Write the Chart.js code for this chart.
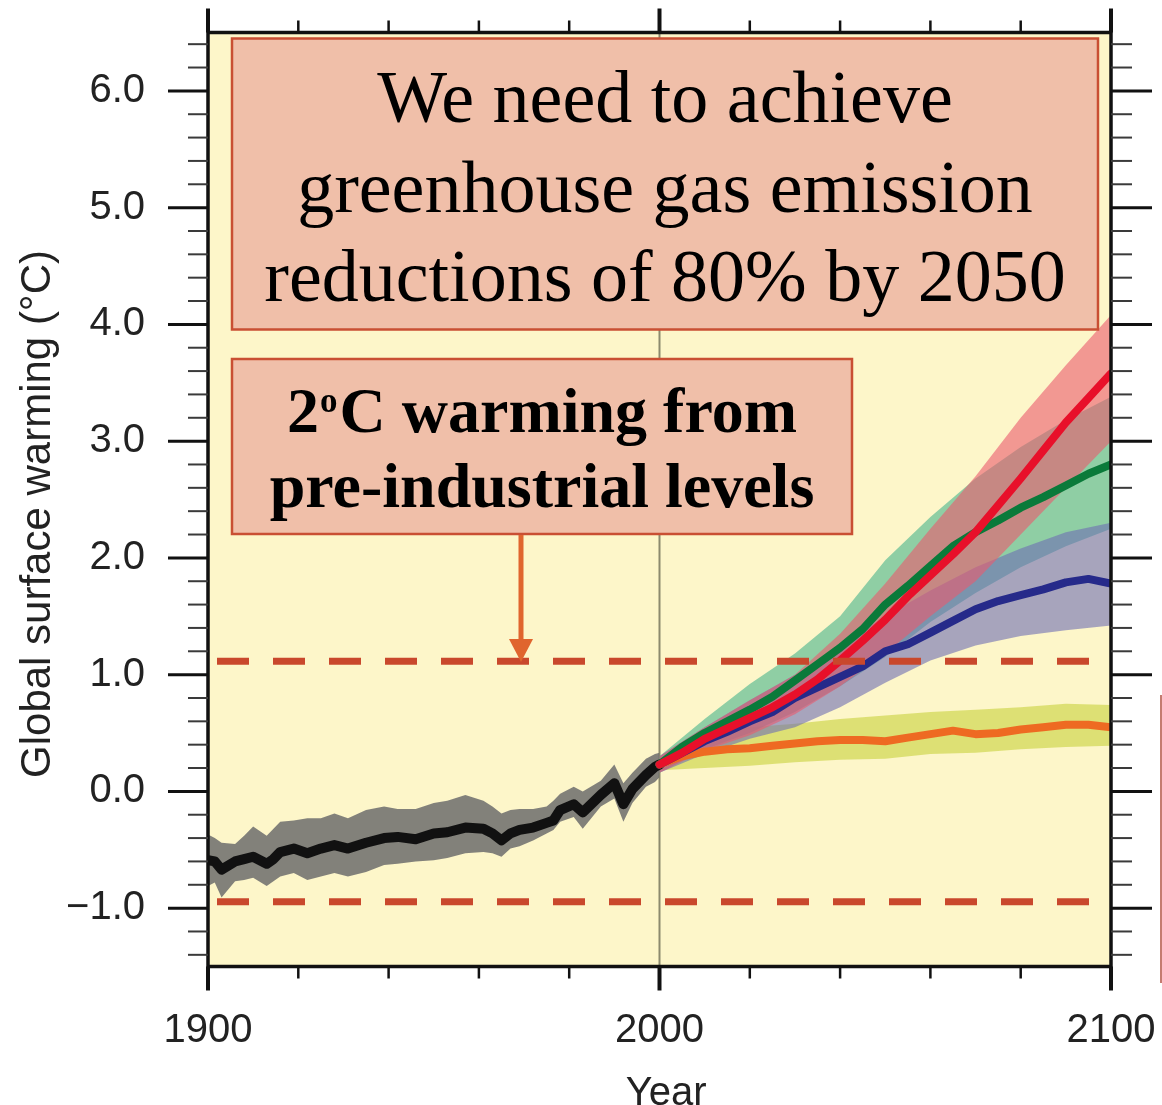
<!DOCTYPE html>
<html><head><meta charset="utf-8">
<script src="https://cdn.jsdelivr.net/npm/chart.js@4.4.1/dist/chart.umd.min.js"></script>
<style>html,body{margin:0;padding:0;background:#fff;overflow:hidden}canvas{display:block}</style>
</head><body>
<canvas id="c" width="1162" height="1105"></canvas>
<script>
// ---------- axis ticks ----------
const xTickValues = [1900, 2000, 2100];
const xTickLabels = ['1900', '2000', '2100'];
const yTickValues = [-1, 0, 1, 2, 3, 4, 5, 6];
const yTickLabels = ['\u22121.0', '0.0', '1.0', '2.0', '3.0', '4.0', '5.0', '6.0'];
const xAxisTitle = 'Year';
const yAxisTitle = 'Global surface warming (\u00B0C)';

// ---------- historical (1900-2000) ----------
const histYears = [1900,1901.5,1903,1906,1908,1910,1913,1914.5,1916,1919,1922,1925,1928,1931,1935,1939,1942,1946,1950,1953,1957,1961,1963,1965,1967,1969,1972,1975,1976.5,1978,1981,1983,1987,1990,1992,1994,1997,1999,2000];
const histMean  = [-0.59,-0.60,-0.67,-0.60,-0.58,-0.56,-0.62,-0.58,-0.52,-0.49,-0.53,-0.49,-0.46,-0.49,-0.44,-0.40,-0.39,-0.41,-0.36,-0.35,-0.31,-0.32,-0.36,-0.42,-0.36,-0.33,-0.31,-0.27,-0.25,-0.16,-0.11,-0.18,-0.03,0.07,-0.11,0.02,0.14,0.21,0.23];
const histUpper = [-0.37,-0.40,-0.44,-0.45,-0.38,-0.30,-0.38,-0.32,-0.26,-0.25,-0.23,-0.23,-0.19,-0.23,-0.16,-0.13,-0.15,-0.15,-0.10,-0.08,-0.03,-0.08,-0.13,-0.19,-0.16,-0.15,-0.15,-0.13,-0.08,-0.02,0.04,0.00,0.09,0.23,0.07,0.16,0.28,0.32,0.33];
const histLower = [-0.81,-0.78,-0.91,-0.77,-0.76,-0.74,-0.81,-0.77,-0.73,-0.70,-0.76,-0.73,-0.70,-0.73,-0.69,-0.63,-0.62,-0.60,-0.59,-0.57,-0.53,-0.52,-0.53,-0.56,-0.49,-0.47,-0.42,-0.36,-0.33,-0.26,-0.22,-0.32,-0.13,-0.06,-0.26,-0.10,0.04,0.08,0.12];

// ---------- projections (2000-2100) ----------
const projYears = [2000,2005,2010,2015,2020,2025,2030,2035,2040,2045,2050,2055,2060,2065,2070,2075,2080,2085,2090,2095,2100];
const redMean    = [0.23,0.33,0.45,0.54,0.63,0.72,0.83,0.96,1.12,1.29,1.47,1.67,1.85,2.03,2.22,2.45,2.68,2.92,3.16,3.37,3.58];
const greenMean  = [0.23,0.38,0.50,0.60,0.70,0.81,0.95,1.09,1.23,1.39,1.60,1.76,1.93,2.10,2.22,2.32,2.43,2.52,2.62,2.72,2.80];
const blueMean   = [0.23,0.33,0.43,0.51,0.60,0.68,0.80,0.89,0.98,1.07,1.20,1.26,1.36,1.46,1.56,1.63,1.68,1.73,1.79,1.82,1.78];
const orangeMean = [0.23,0.30,0.34,0.36,0.37,0.39,0.41,0.43,0.44,0.44,0.43,0.46,0.49,0.52,0.49,0.50,0.53,0.55,0.57,0.57,0.55];

const bandYears   = [2000,2010,2020,2030,2040,2050,2060,2070,2080,2090,2100];
const redUpper    = [0.30,0.55,0.78,1.00,1.35,1.78,2.25,2.70,3.20,3.65,4.08];
const redLower    = [0.16,0.35,0.48,0.66,0.90,1.18,1.50,1.80,2.20,2.60,3.00];
const greenUpper  = [0.30,0.62,0.92,1.18,1.50,1.98,2.35,2.68,2.95,3.18,3.38];
const greenLower  = [0.16,0.36,0.50,0.68,0.90,1.15,1.45,1.70,1.92,2.10,2.25];
const blueUpper   = [0.30,0.55,0.78,1.00,1.25,1.50,1.72,1.92,2.08,2.22,2.30];
const blueLower   = [0.16,0.32,0.45,0.55,0.72,0.93,1.12,1.25,1.33,1.38,1.42];
const orangeUpper = [0.28,0.48,0.55,0.58,0.62,0.65,0.68,0.70,0.72,0.75,0.74];
const orangeLower = [0.18,0.20,0.22,0.25,0.27,0.28,0.32,0.33,0.36,0.38,0.39];

// ---------- reference lines ----------
const thresholdLevels = [1.115, -0.945];
const thresholdSpan = [1902, 2095.4];
const dividerYear = 2000;

// ---------- annotation texts ----------
const box1Lines = ['We need to achieve', 'greenhouse gas emission', 'reductions of 80% by 2050'];
const box2Line1 = ['2', 'o', 'C warming from'];
const box2Line2 = 'pre-industrial levels';

const xy = (xs, ys) => xs.map((x, i) => ({x, y: ys[i]}));

function band(xs, lo, hi, color, order) {
  return [
    {data: xy(xs, lo), borderWidth: 0, pointRadius: 0, fill: false, order},
    {data: xy(xs, hi), borderWidth: 0, pointRadius: 0, fill: '-1', backgroundColor: color, order}
  ];
}
function line(xs, ys, color, width, order) {
  return {data: xy(xs, ys), borderColor: color, borderWidth: width, pointRadius: 0, fill: false,
          borderJoinStyle: 'round', borderCapStyle: 'round', order};
}

const datasets = [
  ...band(histYears, histLower, histUpper, 'rgba(108,108,108,0.85)', 14),
  ...band(bandYears, orangeLower, orangeUpper, 'rgba(200,210,60,0.6)', 13),
  ...band(bandYears, greenLower, greenUpper, 'rgba(70,180,140,0.6)', 12),
  ...band(bandYears, blueLower, blueUpper, 'rgba(110,110,180,0.6)', 11),
  ...band(bandYears, redLower, redUpper, 'rgba(235,90,110,0.6)', 10),
  line(histYears, histMean, '#111111', 10, 5),
  line(projYears, orangeMean, '#ee6a22', 8, 4),
  line(projYears, blueMean, '#262a8a', 8, 3),
  line(projYears, greenMean, '#0a7a3a', 8, 2),
  line(projYears, redMean, '#e8102a', 8, 1),
  ...thresholdLevels.map(v => ({
    data: xy(thresholdSpan, [v, v]), borderColor: '#c9482c', borderWidth: 7, borderDash: [32, 24],
    borderCapStyle: 'butt', pointRadius: 0, fill: false, order: 0
  }))
];

function seg(ctx, x1, y1, x2, y2) { ctx.beginPath(); ctx.moveTo(x1, y1); ctx.lineTo(x2, y2); ctx.stroke(); }
function zeroPad(s) { s.paddingTop = 0; s.paddingBottom = 0; s.paddingLeft = 0; s.paddingRight = 0; }

const overlay = {
  id: 'overlay',
  beforeDraw(chart) {
    const {ctx, chartArea: a} = chart;
    ctx.save();
    ctx.fillStyle = '#ffffff';
    ctx.fillRect(0, 0, chart.width, chart.height);
    ctx.fillStyle = '#fdf6c9';
    ctx.fillRect(a.left, a.top, a.right - a.left, a.bottom - a.top);
    ctx.restore();
  },
  beforeDatasetsDraw(chart) {
    const {ctx, chartArea: a, scales: {x}} = chart;
    const px = x.getPixelForValue(dividerYear);
    ctx.save();
    ctx.strokeStyle = '#8c8a6e'; ctx.lineWidth = 2;
    seg(ctx, px, a.top, px, a.bottom);
    ctx.restore();
  },
  afterDraw(chart) {
    const {ctx, chartArea: a, scales: {x, y}} = chart;
    ctx.save();
    // frame
    ctx.strokeStyle = '#111'; ctx.lineWidth = 3.5;
    ctx.strokeRect(a.left, a.top, a.right - a.left, a.bottom - a.top);
    // y ticks
    ctx.lineCap = 'butt';
    for (let i = -7; i <= 32; i++) {
      const v = i * 0.2;
      const major = i % 5 === 0;
      const py = y.getPixelForValue(v);
      ctx.lineWidth = major ? 3 : 2;
      ctx.strokeStyle = major ? '#111' : '#3a3a3a';
      const L = major ? 40 : 20;
      seg(ctx, a.left - L, py, a.left, py);
      seg(ctx, a.right, py, a.right + L + 1, py);
    }
    // x ticks
    for (let yr = 1900; yr <= 2100; yr += 20) {
      const major = (yr % 100) === 0;
      const px = x.getPixelForValue(yr);
      ctx.lineWidth = major ? 4 : 2.5;
      ctx.strokeStyle = '#111';
      const L = major ? 24 : 12;
      seg(ctx, px, a.top - L, px, a.top);
      seg(ctx, px, a.bottom, px, a.bottom + L);
    }
    // axis titles
    ctx.fillStyle = '#222';
    ctx.font = '40px "Liberation Sans", Arial, sans-serif';
    ctx.textAlign = 'center'; ctx.textBaseline = 'alphabetic';
    ctx.fillText(xAxisTitle, x.getPixelForValue(2001.5), 1105);
    ctx.save();
    ctx.translate(50, 514);
    ctx.rotate(-Math.PI / 2);
    ctx.font = '42px "Liberation Sans", Arial, sans-serif';
    ctx.fillText(yAxisTitle, 0, 0);
    ctx.restore();

    // box 1
    ctx.fillStyle = '#f0bfa9'; ctx.strokeStyle = '#c94f33'; ctx.lineWidth = 2.5;
    ctx.fillRect(232, 38.5, 866, 291); ctx.strokeRect(232, 38.5, 866, 291);
    ctx.fillStyle = '#000';
    ctx.font = '74px "Liberation Serif", "Times New Roman", serif';
    ctx.textAlign = 'center';
    const bl = [122, 211.5, 301];
    box1Lines.forEach((t, i) => ctx.fillText(t, 665, bl[i]));

    // box 2
    ctx.fillStyle = '#f0bfa9'; ctx.strokeStyle = '#c94f33'; ctx.lineWidth = 2.5;
    ctx.fillRect(232, 359, 620, 175); ctx.strokeRect(232, 359, 620, 175);
    ctx.fillStyle = '#000';
    const bigF = 'bold 64px "Liberation Serif", "Times New Roman", serif';
    const supF = 'bold 35px "Liberation Serif", "Times New Roman", serif';
    ctx.font = bigF; const w1 = ctx.measureText(box2Line1[0]).width;
    const w3 = ctx.measureText(box2Line1[2]).width;
    ctx.font = supF; const w2 = ctx.measureText(box2Line1[1]).width + 3;
    let sx = 542 - (w1 + w2 + w3) / 2;
    ctx.textAlign = 'left';
    ctx.font = bigF; ctx.fillText(box2Line1[0], sx, 431.7); sx += w1 + 1;
    ctx.font = supF; ctx.fillText(box2Line1[1], sx, 412); sx += w2 - 1;
    ctx.font = bigF; ctx.fillText(box2Line1[2], sx, 431.7);
    ctx.textAlign = 'center';
    ctx.fillText(box2Line2, 542, 506.7);

    // arrow
    ctx.strokeStyle = '#e0652e'; ctx.fillStyle = '#e0652e'; ctx.lineWidth = 5;
    seg(ctx, 521, 535, 521, 642);
    ctx.beginPath(); ctx.moveTo(509, 639); ctx.lineTo(533, 639); ctx.lineTo(521, 662); ctx.closePath(); ctx.fill();

    // stray edge line from source image
    ctx.strokeStyle = '#b05040'; ctx.lineWidth = 1.5;
    seg(ctx, 1161, 695, 1161, 983);
    ctx.restore();
  }
};

new Chart(document.getElementById('c'), {
  type: 'line',
  data: {datasets},
  options: {
    responsive: false, animation: false, devicePixelRatio: 1,
    layout: {padding: {top: 32.5, right: 51, left: 0, bottom: 0}},
    plugins: {legend: {display: false}, tooltip: {enabled: false}, title: {display: false}},
    elements: {point: {radius: 0}, line: {tension: 0}},
    scales: {
      x: {
        type: 'linear', min: 1900, max: 2100,
        grid: {display: false, drawTicks: false}, border: {display: false},
        afterBuildTicks: s => { s.ticks = xTickValues.map(v => ({value: v})); },
        afterFit: s => { s.height = 138.5; zeroPad(s); },
        ticks: {padding: 40, color: '#222', maxRotation: 0, autoSkip: false,
                font: {family: '"Liberation Sans", Arial, sans-serif', size: 40},
                callback: v => { const i = xTickValues.indexOf(v); return i >= 0 ? xTickLabels[i] : ''; }}
      },
      y: {
        type: 'linear', min: -1.5, max: 6.5,
        grid: {display: false, drawTicks: false}, border: {display: false},
        afterBuildTicks: s => { s.ticks = yTickValues.map(v => ({value: v})); },
        afterFit: s => { s.width = 208; zeroPad(s); },
        ticks: {padding: 63, color: '#222', autoSkip: false,
                font: {family: '"Liberation Sans", Arial, sans-serif', size: 40},
                callback: v => { const i = yTickValues.indexOf(v); return i >= 0 ? yTickLabels[i] : ''; }}
      }
    }
  },
  plugins: [overlay]
});
</script>
</body></html>
